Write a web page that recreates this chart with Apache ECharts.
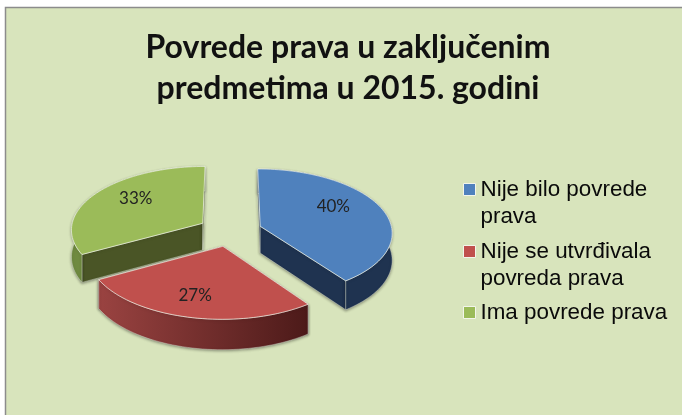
<!DOCTYPE html>
<html><head><meta charset="utf-8">
<style>html,body{margin:0;padding:0;background:#fff}#c{width:682px;height:415px}</style>
<script src="https://cdn.jsdelivr.net/npm/echarts@6/dist/echarts.min.js"></script>
</head><body><div id="c"></div>
<script>
const titleText = 'Povrede prava u zaključenim\npredmetima u 2015. godini';
const categories = ['Nije bilo povrede prava', 'Nije se utvrđivala povreda prava', 'Ima povrede prava'];
const values = [40, 27, 33];
const labels = ['40%', '27%', '33%'];

// projection of the tilted, exploded pie
const OX = 230, OY = 231, R = 132, K = 0.48, D = 1450, E = 32, H = 27;
const topColors = ['#4f81bd', '#c0504d', '#9bbb59'];
const cutColors = ['#1f3350', '#5c2220', '#4a5526'];
const labelRadius = [0.6, 0.85, 0.62], labelLift = [-9, -9, -6];
const total = values.reduce((a, b) => a + b, 0);

function project(x, z, h) {
  const s = D / (D - z);
  return [OX + x * s, OY + z * K * s + (h || 0) * s];
}
function wallFill(i) {
  if (i === 1) return new echarts.graphic.LinearGradient(0, 0, 1, 0, [
    { offset: 0, color: '#9a4341' }, { offset: 1, color: '#4c1a19' }]);
  if (i === 2) return '#6f8a40';
  return '#1f3350';
}
function sliceRender(i) {
  return function () {
    let start = 0;
    for (let k = 0; k < i; k++) start += values[k];
    const a0 = start / total * 2 * Math.PI;
    const a1 = (start + values[i]) / total * 2 * Math.PI;
    const mid = (a0 + a1) / 2;
    const ex = E * Math.sin(mid), ez = -E * Math.cos(mid);
    const rim = [];
    const steps = Math.ceil((a1 - a0) / (Math.PI / 90));
    for (let n = 0; n <= steps; n++) {
      const t = a0 + (a1 - a0) * n / steps;
      rim.push([ex + R * Math.sin(t), ez - R * Math.cos(t)]);
    }
    const P = (p, h) => project(p[0], p[1], h);
    const apex = [ex, ez];
    const first = rim[0], last = rim[rim.length - 1];
    const edge = 'rgba(235,240,225,0.55)';
    const shadow = { shadowColor: 'rgba(0,0,0,0.4)', shadowBlur: 3, shadowOffsetY: 1 };
    const face = (a, b) => ({
      type: 'polygon',
      shape: { points: [P(a, 0), P(b, 0), P(b, H), P(a, H)] },
      style: Object.assign({ fill: cutColors[i], stroke: edge, lineWidth: 0.7 }, shadow)
    });
    const wallPts = rim.map(p => P(p, 0)).concat(rim.slice().reverse().map(p => P(p, H)));
    const lf = labelRadius[i] * R;
    const lp = project(ex + lf * Math.sin(mid), ez - lf * Math.cos(mid), labelLift[i]);
    return {
      type: 'group',
      children: [
        face(apex, first), face(apex, last),
        { type: 'polygon', shape: { points: wallPts },
          style: Object.assign({ fill: wallFill(i), stroke: edge, lineWidth: 0.7 }, shadow) },
        { type: 'polygon', shape: { points: [P(apex, 0)].concat(rim.map(p => P(p, 0))) },
          style: { fill: topColors[i], stroke: 'rgba(245,248,240,0.8)', lineWidth: 0.8 } },
        { type: 'text', x: lp[0], y: lp[1],
          style: { text: labels[i], fill: '#222', fontFamily: 'Lato', fontSize: 17, align: 'center', verticalAlign: 'middle' } }
      ]
    };
  };
}
const twoLineIcon = 'path://M0 0L0 0M0 7.5H12V19.5H0ZM0 54L0 54';
const oneLineIcon = 'path://M0 0L0 0M0 7.5H12V19.5H0ZM0 27L0 27';
function legendAt(i, top, icon, itemHeight) {
  return {
    data: [{ name: categories[i], icon: icon }],
    left: 463, top: top, orient: 'vertical', padding: 0,
    itemWidth: 12, itemHeight: itemHeight,
    selectedMode: false,
    itemStyle: { borderColor: '#f2f5ea', borderWidth: 1 },
    textStyle: { fontFamily: 'Liberation Sans', fontSize: 22.4, color: '#0a0a0a', lineHeight: 27, width: 195, overflow: 'break' }
  };
}
const chart = echarts.init(document.getElementById('c'), null, { renderer: 'canvas' });
chart.setOption({
  animation: false,
  backgroundColor: '#ffffff',
  title: {
    text: titleText, left: 343, top: 22, textAlign: 'center',
    textStyle: { fontFamily: 'Lato', fontWeight: 'bold', fontSize: 32, lineHeight: 41, color: '#111' }
  },
  legend: [
    legendAt(0, 175.5, twoLineIcon, 54),
    legendAt(1, 237.5, twoLineIcon, 54),
    legendAt(2, 298.5, oneLineIcon, 27)
  ],
  graphic: [{
    type: 'rect', z: -10, silent: true,
    shape: { x: 5.5, y: 7.5, width: 700, height: 430 },
    style: { fill: '#d8e4bc', stroke: '#8c8c8c', lineWidth: 1.5 }
  }],
  series: categories.map((name, i) => ({
    type: 'custom', name: name, coordinateSystem: 'none',
    z: [2, 3, 1][i], silent: true,
    itemStyle: { color: topColors[i] },
    renderItem: sliceRender(i),
    data: [values[i]]
  }))
});
</script></body></html>
